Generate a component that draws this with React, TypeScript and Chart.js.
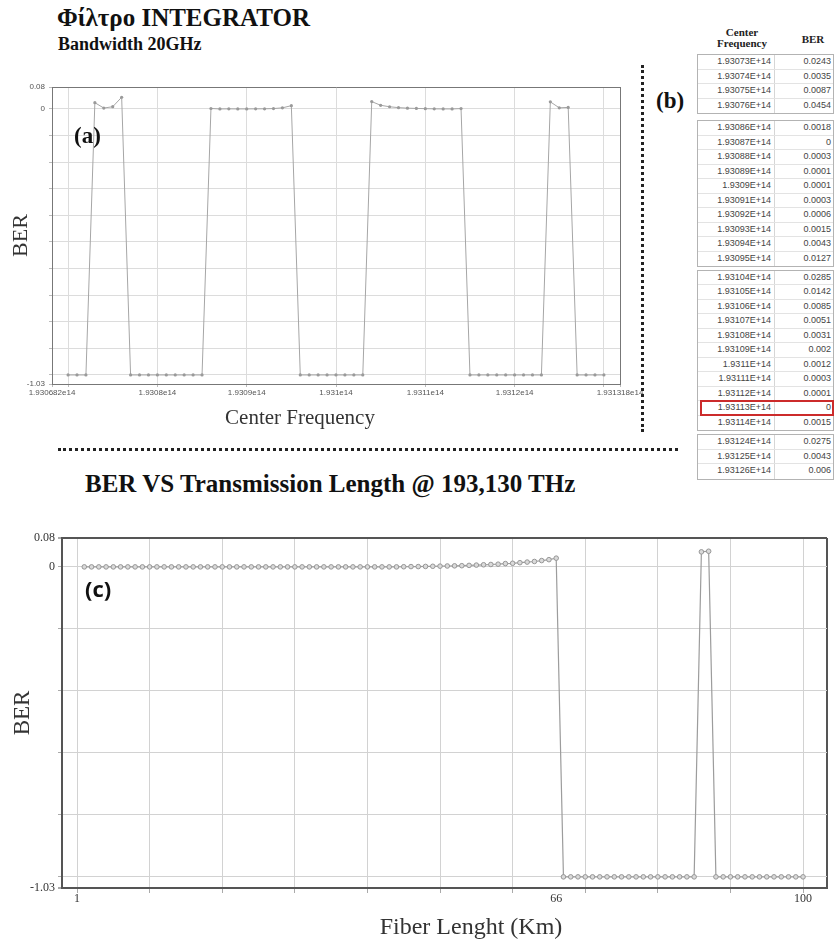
import React, { useEffect, useRef } from "react";
import { Chart, registerables } from "chart.js";
Chart.register(...registerables);

// ---------- Chart (a): BER vs Center Frequency (GHz) ----------
const freqA = [
  193070, 193071, 193072, 193073, 193074, 193075, 193076, 193077, 193078, 193079,
  193080, 193081, 193082, 193083, 193084, 193085, 193086, 193087, 193088, 193089,
  193090, 193091, 193092, 193093, 193094, 193095, 193096, 193097, 193098, 193099,
  193100, 193101, 193102, 193103, 193104, 193105, 193106, 193107, 193108, 193109,
  193110, 193111, 193112, 193113, 193114, 193115, 193116, 193117, 193118, 193119,
  193120, 193121, 193122, 193123, 193124, 193125, 193126, 193127, 193128, 193129,
  193130,
];
const berA = [
  -1.03, -1.03, -1.03,
  0.0243, 0.0035, 0.0087, 0.0454,
  -1.03, -1.03, -1.03, -1.03, -1.03, -1.03, -1.03, -1.03, -1.03,
  0.0018, 0, 0.0003, 0.0001, 0.0001, 0.0003, 0.0006, 0.0015, 0.0043, 0.0127,
  -1.03, -1.03, -1.03, -1.03, -1.03, -1.03, -1.03, -1.03,
  0.0285, 0.0142, 0.0085, 0.0051, 0.0031, 0.002, 0.0012, 0.0003, 0.0001, 0, 0.0015,
  -1.03, -1.03, -1.03, -1.03, -1.03, -1.03, -1.03, -1.03, -1.03,
  0.0275, 0.0043, 0.006,
  -1.03, -1.03, -1.03, -1.03,
];
const xMinA = 193068.2;
const xMaxA = 193131.8;
const xGridA = [193070, 193080, 193090, 193100, 193110, 193120, 193130];
const xLabelValuesA = [193068.2, 193080, 193090, 193100, 193110, 193120, 193131.8];
const yMinA = -1.065;
const yMaxA = 0.085;
const yGridA = [0, -0.103, -0.206, -0.309, -0.412, -0.515, -0.618, -0.721, -0.824, -0.927, -1.03];
const yTickLabelsA = ["0.08", "0", "-1.03"];
const highlightFreq = 193113;

// ---------- Chart (c): BER vs Fiber length (km) ----------
const kmC = [
  1, 2, 3, 4, 5, 6, 7, 8, 9, 10, 11, 12, 13, 14, 15, 16, 17, 18, 19, 20,
  21, 22, 23, 24, 25, 26, 27, 28, 29, 30, 31, 32, 33, 34, 35, 36, 37, 38, 39, 40,
  41, 42, 43, 44, 45, 46, 47, 48, 49, 50, 51, 52, 53, 54, 55, 56, 57, 58, 59, 60,
  61, 62, 63, 64, 65, 66, 67, 68, 69, 70, 71, 72, 73, 74, 75, 76, 77, 78, 79, 80,
  81, 82, 83, 84, 85, 86, 87, 88, 89, 90, 91, 92, 93, 94, 95, 96, 97, 98, 99, 100,
];
const berC = [
  0, 0, 0, 0, 0, 0, 0, 0, 0, 0, 0, 0, 0, 0, 0, 0, 0, 0, 0, 0,
  0, 0, 0, 0, 0, 0, 0, 0, 0, 0, 0, 0, 0, 0, 0, 0, 0, 0, 0, 0,
  0, 0, 0, 0,
  0.0005, 0.001, 0.001, 0.0015,
  0.002, 0.0025, 0.003, 0.0035,
  0.004, 0.005, 0.006, 0.007,
  0.008, 0.009, 0.011, 0.012,
  0.014, 0.016, 0.018, 0.021, 0.024, 0.029,
  -1.03, -1.03, -1.03, -1.03, -1.03, -1.03, -1.03, -1.03, -1.03, -1.03,
  -1.03, -1.03, -1.03, -1.03, -1.03, -1.03, -1.03, -1.03, -1.03,
  0.05, 0.052,
  -1.03, -1.03, -1.03, -1.03, -1.03, -1.03, -1.03, -1.03, -1.03, -1.03, -1.03, -1.03, -1.03,
];
const xMinC = -2.07;
const xMaxC = 103.3;
const xGridC = [0, 10, 20, 30, 40, 50, 60, 70, 80, 90, 100];
const xLabelValuesC = [0, 66, 100];
const xTickLabelsC = ["1", "66", "100"];
const yMinC = -1.067;
const yMaxC = 0.096;
const yGridC = [0, -0.206, -0.412, -0.618, -0.824, -1.03];
const yTickLabelsC = ["0.08", "0", "-1.03"];

const SERIF = "'Liberation Serif', 'DejaVu Serif', serif";
const SANS = "'Liberation Sans', Arial, sans-serif";

const near = (a: number, b: number) => Math.abs(a - b) < 1e-6;
const fmtE14 = (ghz: number) => `${parseFloat((ghz / 1e5).toFixed(7))}e14`;
const fmtTableFreq = (ghz: number) => `${parseFloat((ghz / 1e5).toFixed(6))}E+14`;

function uniqSorted(vals: number[]) {
  const out: number[] = [];
  [...vals].sort((a, b) => a - b).forEach((v) => {
    if (!out.some((o) => near(o, v))) out.push(v);
  });
  return out;
}

function configA(): any {
  const xTicks = uniqSorted([xMinA, xMaxA, ...xGridA, ...xLabelValuesA]);
  const yTicks = uniqSorted([yMinA, yMaxA, ...yGridA]);
  const edgeX = (v: number) => near(v, xMinA) || near(v, xMaxA);
  const edgeY = (v: number) => near(v, yMinA) || near(v, yMaxA);
  const isGridX = (v: number) => xGridA.some((g) => near(g, v)) || edgeX(v);
  return {
    type: "line",
    data: {
      datasets: [
        {
          data: freqA.map((x, i) => ({ x, y: berA[i] })),
          borderColor: "#a6a6a6",
          borderWidth: 1,
          pointRadius: 1.6,
          pointBackgroundColor: "#9a9a9a",
          pointBorderColor: "#9a9a9a",
          pointBorderWidth: 0,
          tension: 0,
        },
      ],
    },
    options: {
      responsive: false,
      animation: false,
      devicePixelRatio: 1,
      layout: { padding: { top: 27, right: 25, left: 0, bottom: 0 } },
      plugins: { legend: { display: false }, tooltip: { enabled: false } },
      scales: {
        x: {
          type: "linear",
          min: xMinA,
          max: xMaxA,
          afterBuildTicks: (s: any) => {
            s.ticks = xTicks.map((value) => ({ value }));
          },
          afterFit: (s: any) => {
            s.height = 56;
          },
          ticks: {
            autoSkip: false,
            maxRotation: 0,
            padding: 1,
            color: "#555",
            font: { family: SANS, size: 8 },
            callback: (v: number) => (xLabelValuesA.some((l) => near(l, v)) ? fmtE14(v) : ""),
          },
          grid: {
            color: (c: any) => {
              const v = c.tick?.value;
              if (v === undefined) return "#dcdcdc";
              if (edgeX(v)) return "#777";
              return isGridX(v) ? "#dcdcdc" : "rgba(0,0,0,0)";
            },
            tickColor: (c: any) => {
              const v = c.tick?.value;
              return v !== undefined && isGridX(v) ? "#bbb" : "rgba(0,0,0,0)";
            },
            tickLength: 3,
            lineWidth: 1,
          },
          border: { color: "#777", width: 1 },
        },
        y: {
          type: "linear",
          min: yMinA,
          max: yMaxA,
          afterBuildTicks: (s: any) => {
            s.ticks = yTicks.map((value) => ({ value }));
          },
          afterFit: (s: any) => {
            s.width = 52;
          },
          ticks: {
            autoSkip: false,
            padding: 4,
            color: "#555",
            font: { family: SANS, size: 8 },
            callback: (v: number) =>
              near(v, yMaxA) ? yTickLabelsA[0] : near(v, 0) ? yTickLabelsA[1] : near(v, yMinA) ? yTickLabelsA[2] : "",
          },
          grid: {
            color: (c: any) => {
              const v = c.tick?.value;
              if (v !== undefined && edgeY(v)) return "#777";
              return "#dcdcdc";
            },
            tickColor: "#bbb",
            tickLength: 3,
            lineWidth: 1,
          },
          border: { color: "#777", width: 1 },
          title: {
            display: true,
            text: "BER",
            color: "#333",
            font: { family: SERIF, size: 22 },
            padding: { top: 8, bottom: 0 },
          },
        },
      },
    },
  };
}

function configC(): any {
  const xTicks = uniqSorted([xMinC, xMaxC, ...xGridC, ...xLabelValuesC]);
  const yTicks = uniqSorted([yMinC, yMaxC, ...yGridC]);
  const edgeX = (v: number) => near(v, xMinC) || near(v, xMaxC);
  const edgeY = (v: number) => near(v, yMinC) || near(v, yMaxC);
  const isGridX = (v: number) => xGridC.some((g) => near(g, v));
  return {
    type: "line",
    data: {
      datasets: [
        {
          data: kmC.map((x, i) => ({ x, y: berC[i] })),
          borderColor: "#9c9c9c",
          borderWidth: 1.2,
          pointRadius: 2.3,
          pointBackgroundColor: "#dadada",
          pointBorderColor: "#969696",
          pointBorderWidth: 1,
          tension: 0,
        },
      ],
    },
    options: {
      responsive: false,
      animation: false,
      devicePixelRatio: 1,
      layout: { padding: { top: 38, right: 9, left: 0, bottom: 0 } },
      plugins: { legend: { display: false }, tooltip: { enabled: false } },
      scales: {
        x: {
          type: "linear",
          min: xMinC,
          max: xMaxC,
          afterBuildTicks: (s: any) => {
            s.ticks = xTicks.map((value) => ({ value }));
          },
          afterFit: (s: any) => {
            s.height = 55;
          },
          ticks: {
            autoSkip: false,
            maxRotation: 0,
            padding: 0,
            color: "#333",
            font: { family: SERIF, size: 12, lineHeight: 1 },
            callback: (v: number) => {
              const i = xLabelValuesC.findIndex((l) => near(l, v));
              return i >= 0 ? xTickLabelsC[i] : "";
            },
          },
          grid: {
            color: (c: any) => {
              const v = c.tick?.value;
              if (v === undefined) return "#d2d2d2";
              if (edgeX(v)) return "#555";
              return isGridX(v) ? "#d2d2d2" : "rgba(0,0,0,0)";
            },
            lineWidth: (c: any) => {
              const v = c.tick?.value;
              return v !== undefined && edgeX(v) ? 2 : 1;
            },
            tickColor: (c: any) => {
              const v = c.tick?.value;
              return v !== undefined && isGridX(v) ? "#aaa" : "rgba(0,0,0,0)";
            },
            tickLength: 5,
          },
          border: { color: "#555", width: 2 },
        },
        y: {
          type: "linear",
          min: yMinC,
          max: yMaxC,
          afterBuildTicks: (s: any) => {
            s.ticks = yTicks.map((value) => ({ value }));
          },
          afterFit: (s: any) => {
            s.width = 62;
          },
          ticks: {
            autoSkip: false,
            padding: 3,
            color: "#333",
            font: { family: SERIF, size: 12 },
            callback: (v: number) =>
              near(v, yMaxC) ? yTickLabelsC[0] : near(v, 0) ? yTickLabelsC[1] : near(v, yMinC) ? yTickLabelsC[2] : "",
          },
          grid: {
            color: (c: any) => {
              const v = c.tick?.value;
              if (v !== undefined && edgeY(v)) return "#555";
              return "#d2d2d2";
            },
            lineWidth: (c: any) => {
              const v = c.tick?.value;
              return v !== undefined && edgeY(v) ? 2 : 1;
            },
            tickColor: "#aaa",
            tickLength: 4,
          },
          border: { color: "#555", width: 2 },
          title: {
            display: true,
            text: "BER",
            color: "#333",
            font: { family: SERIF, size: 23 },
            padding: { top: 9, bottom: 0 },
          },
        },
      },
    },
  };
}

function ChartCanvas({ make, left, top, width, height }: { make: () => any; left: number; top: number; width: number; height: number }) {
  const ref = useRef<HTMLCanvasElement>(null);
  useEffect(() => {
    const chart = new Chart(ref.current as HTMLCanvasElement, make());
    return () => chart.destroy();
  }, []);
  return (
    <canvas
      ref={ref}
      width={width}
      height={height}
      style={{ position: "absolute", left, top, width, height, display: "block" }}
    />
  );
}

function BerTable() {
  // group contiguous rows where BER is a real value (>= 0)
  const groups: { f: number; b: number }[][] = [];
  freqA.forEach((f, i) => {
    if (berA[i] < 0) return;
    if (i > 0 && berA[i - 1] >= 0 && groups.length) groups[groups.length - 1].push({ f, b: berA[i] });
    else groups.push([{ f, b: berA[i] }]);
  });
  const groupTops = [54, 120, 269.5, 434];
  const rowH = 14.5;
  return (
    <>
      <div
        style={{
          position: "absolute", left: 710, top: 27, width: 64, textAlign: "center",
          fontFamily: SERIF, fontWeight: 700, fontSize: 11, lineHeight: "11px", color: "#222",
        }}
      >
        Center
        <br />
        Frequency
      </div>
      <div
        style={{
          position: "absolute", left: 798, top: 34, width: 30, textAlign: "center",
          fontFamily: SERIF, fontWeight: 700, fontSize: 11, lineHeight: "11px", color: "#222",
        }}
      >
        BER
      </div>
      {groups.map((g, gi) => (
        <div
          key={gi}
          style={{
            position: "absolute", left: 697, top: groupTops[gi] ?? 0, width: 137,
            border: "1px solid #b3b3b3", boxSizing: "border-box", background: "#fff",
          }}
        >
          {g.map((r, ri) => (
            <div
              key={ri}
              style={{
                position: "relative", display: "flex", height: rowH,
                boxSizing: "border-box",
                borderBottom: ri === g.length - 1 ? "none" : "1px solid #e3e3e3",
                fontFamily: SANS, fontSize: 9, color: "#444", lineHeight: `${rowH - 1}px`,
              }}
            >
              <div style={{ width: 77, boxSizing: "border-box", textAlign: "right", paddingRight: 3, borderRight: "1px solid #d6d6d6" }}>
                {fmtTableFreq(r.f)}
              </div>
              <div style={{ flex: 1, textAlign: "right", paddingRight: 2 }}>{String(r.b)}</div>
              {r.f === highlightFreq && (
                <div
                  style={{
                    position: "absolute", left: 2, right: -1, top: -1, bottom: -1,
                    border: "2px solid #cc2b2b",
                  }}
                />
              )}
            </div>
          ))}
        </div>
      ))}
    </>
  );
}

export default function App() {
  const txt = (extra: React.CSSProperties): React.CSSProperties => ({
    position: "absolute", lineHeight: 1, whiteSpace: "nowrap", zIndex: 2, ...extra,
  });
  return (
    <div
      style={{
        position: "absolute", left: 0, top: 0, width: 836, height: 943,
        background: "#fff", overflow: "hidden",
      }}
    >
      <div style={txt({ left: 57, top: 5, fontFamily: SERIF, fontWeight: 700, fontSize: 25, color: "#111" })}>
        Φίλτρο INTEGRATOR
      </div>
      <div style={txt({ left: 58, top: 35, fontFamily: SERIF, fontWeight: 700, fontSize: 18, color: "#111" })}>
        Bandwidth 20GHz
      </div>

      <ChartCanvas make={configA} left={0} top={60} width={645} height={380} />
      <div style={txt({ left: 74, top: 124, fontFamily: SERIF, fontWeight: 700, fontSize: 23, color: "#111" })}>(a)</div>
      <div style={txt({ left: 200, top: 407, width: 200, textAlign: "center", fontFamily: SERIF, fontSize: 21, color: "#333" })}>
        Center Frequency
      </div>

      <div style={{ position: "absolute", left: 641, top: 65, height: 367, borderLeft: "3px dotted #222" }} />
      <div style={{ position: "absolute", left: 58, top: 448, width: 620, borderTop: "3px dotted #222" }} />

      <div style={txt({ left: 656, top: 89, fontFamily: SERIF, fontWeight: 700, fontSize: 23, color: "#111" })}>(b)</div>
      <BerTable />

      <div style={txt({ left: 85, top: 471, fontFamily: SERIF, fontWeight: 700, fontSize: 25, color: "#111" })}>
        BER VS Transmission Length @ 193,130 THz
      </div>

      <ChartCanvas make={configC} left={0} top={500} width={836} height={443} />
      <div style={txt({ left: 85, top: 577, fontFamily: "'Open Sans', 'Noto Sans', sans-serif", fontWeight: 700, fontSize: 22, color: "#111" })}>
        (c)
      </div>
      <div style={txt({ left: 321, top: 914, width: 300, textAlign: "center", fontFamily: SERIF, fontSize: 24, color: "#333" })}>
        Fiber Lenght (Km)
      </div>
    </div>
  );
}
